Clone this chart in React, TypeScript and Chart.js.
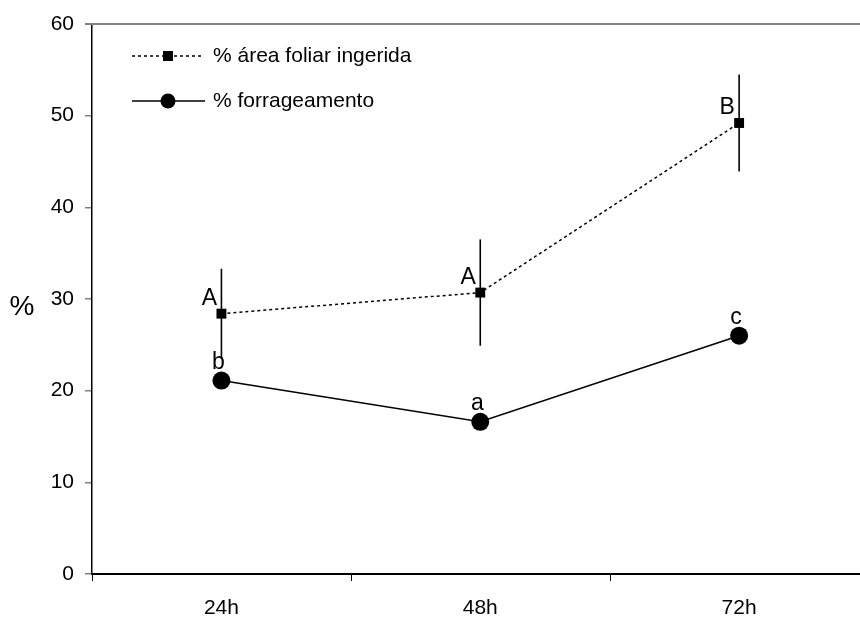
import React, { useEffect, useRef } from "react";
import { Chart, registerables } from "chart.js";

Chart.register(...registerables);

const categories = ["24h", "48h", "72h"];
const xPositions = [1, 2, 3];
const areaFoliar = [28.4, 30.7, 49.2];
const areaFoliarErr = [4.9, 5.8, 5.3];
const forrageamento = [21.1, 16.6, 26.0];
const areaLetters = ["A", "A", "B"];
const forrLetters = ["b", "a", "c"];
const seriesNames = ["% área foliar ingerida", "% forrageamento"];
const yTicks = [0, 10, 20, 30, 40, 50, 60];
const xTickMarks = [0.5, 1.5, 2.5];

const FONT = '"Liberation Sans", Arial, sans-serif';

const customPlugin = {
  id: "custom",
  beforeDatasetsDraw(chart: any) {
    const ctx = chart.ctx;
    const x = chart.scales.x;
    const y = chart.scales.y;
    ctx.save();
    ctx.strokeStyle = "#000";
    ctx.lineWidth = 1.6;
    areaFoliar.forEach((v, i) => {
      const px = x.getPixelForValue(xPositions[i]);
      ctx.beginPath();
      ctx.moveTo(px, y.getPixelForValue(v + areaFoliarErr[i]));
      ctx.lineTo(px, y.getPixelForValue(v - areaFoliarErr[i]));
      ctx.stroke();
    });
    ctx.restore();
  },
  afterDraw(chart: any) {
    const ctx = chart.ctx;
    const x = chart.scales.x;
    const y = chart.scales.y;
    const area = chart.chartArea;
    ctx.save();
    // top border
    ctx.strokeStyle = "#808080";
    ctx.lineWidth = 2;
    ctx.beginPath();
    ctx.moveTo(area.left - 7, area.top);
    ctx.lineTo(area.right, area.top);
    ctx.stroke();
    // x tick marks
    ctx.strokeStyle = "#000";
    ctx.lineWidth = 1;
    xTickMarks.forEach((v) => {
      const px = Math.round(x.getPixelForValue(v)) + 0.5;
      ctx.beginPath();
      ctx.moveTo(px, area.bottom);
      ctx.lineTo(px, area.bottom + 7);
      ctx.stroke();
    });
    // y title
    ctx.fillStyle = "#000";
    ctx.font = `28px ${FONT}`;
    ctx.textAlign = "center";
    ctx.textBaseline = "middle";
    ctx.fillText("%", 22, (area.top + area.bottom) / 2 + 8);
    // letters
    ctx.font = `23px ${FONT}`;
    areaFoliar.forEach((v, i) => {
      ctx.fillText(areaLetters[i], x.getPixelForValue(xPositions[i]) - 12, y.getPixelForValue(v) - 15);
    });
    forrageamento.forEach((v, i) => {
      ctx.fillText(forrLetters[i], x.getPixelForValue(xPositions[i]) - 3, y.getPixelForValue(v) - 18);
    });
    // legend
    const lx0 = area.left + 40;
    const lx1 = area.left + 110;
    const lmx = (lx0 + lx1) / 2 + 1;
    const ly1 = area.top + 32;
    const ly2 = area.top + 77;
    ctx.lineWidth = 1.5;
    ctx.setLineDash([3, 3]);
    ctx.beginPath();
    ctx.moveTo(lx0, ly1);
    ctx.lineTo(lx1, ly1);
    ctx.stroke();
    ctx.setLineDash([]);
    ctx.fillRect(lmx - 5, ly1 - 5, 10, 10);
    ctx.beginPath();
    ctx.moveTo(lx0, ly2);
    ctx.lineTo(lx1 + 3, ly2);
    ctx.stroke();
    ctx.beginPath();
    ctx.arc(lmx, ly2, 7.5, 0, Math.PI * 2);
    ctx.fill();
    ctx.font = `21px ${FONT}`;
    ctx.textAlign = "left";
    ctx.fillText(seriesNames[0], lx1 + 11, ly1);
    ctx.fillText(seriesNames[1], lx1 + 11, ly2);
    ctx.restore();
  },
};

export default function App() {
  const ref = useRef<HTMLCanvasElement>(null);
  useEffect(() => {
    if (!ref.current) return;
    const chart = new Chart(ref.current, {
      type: "line",
      data: {
        datasets: [
          {
            label: seriesNames[0],
            data: areaFoliar.map((v, i) => ({ x: xPositions[i], y: v })),
            borderColor: "#000",
            backgroundColor: "#000",
            borderWidth: 1.5,
            borderDash: [3, 3],
            pointStyle: "rect",
            pointRadius: 7,
            pointBorderWidth: 0,
            pointBackgroundColor: "#000",
            tension: 0,
          },
          {
            label: seriesNames[1],
            data: forrageamento.map((v, i) => ({ x: xPositions[i], y: v })),
            borderColor: "#000",
            backgroundColor: "#000",
            borderWidth: 1.5,
            pointStyle: "circle",
            pointRadius: 9,
            pointBorderWidth: 0,
            pointBackgroundColor: "#000",
            tension: 0,
          },
        ],
      },
      options: {
        responsive: false,
        animation: false,
        layout: { autoPadding: false, padding: { top: 24, right: 0, left: 0, bottom: 0 } },
        plugins: { legend: { display: false }, tooltip: { enabled: false } },
        scales: {
          x: {
            type: "linear",
            min: 0.5,
            max: 3.467,
            afterBuildTicks: (axis: any) => {
              axis.ticks = xPositions.map((v) => ({ value: v }));
            },
            afterFit: (axis: any) => {
              axis.height = 43;
              axis.paddingLeft = 0;
              axis.paddingRight = 0;
            },
            grid: { display: false },
            border: { display: true, color: "#000", width: 2 },
            ticks: {
              color: "#000",
              font: { family: FONT, size: 21 },
              padding: 14,
              maxRotation: 0,
              callback: (v: any) => categories[xPositions.indexOf(Number(v))] ?? "",
            },
          },
          y: {
            type: "linear",
            min: 0,
            max: 60,
            afterBuildTicks: (axis: any) => {
              axis.ticks = yTicks.map((v) => ({ value: v }));
            },
            afterFit: (axis: any) => {
              axis.width = 92;
              axis.paddingTop = 0;
              axis.paddingBottom = 0;
            },
            grid: {
              display: true,
              drawOnChartArea: false,
              drawTicks: true,
              tickLength: 7,
              color: "#808080",
              lineWidth: 1.5,
            },
            border: { display: true, color: "#000", width: 1.5 },
            ticks: {
              color: "#000",
              font: { family: FONT, size: 21 },
              padding: 11,
            },
          },
        },
      },
      plugins: [customPlugin],
    });
    return () => chart.destroy();
  }, []);
  return (
    <div style={{ position: "absolute", left: 0, top: 0, width: 860, height: 617, background: "#fff" }}>
      <canvas ref={ref} width={860} height={617} style={{ display: "block" }} />
    </div>
  );
}
